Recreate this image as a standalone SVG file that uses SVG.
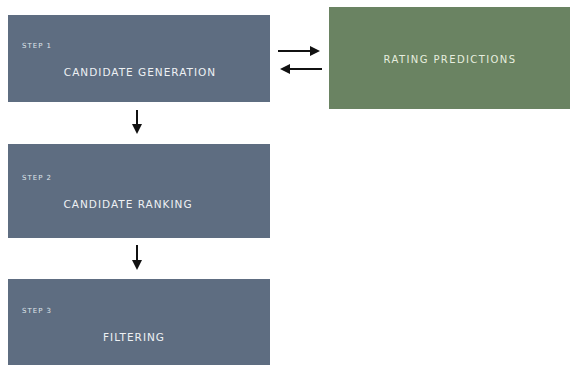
<svg xmlns="http://www.w3.org/2000/svg" width="570" height="365" viewBox="0 0 570 365">
<style>
.step{fill:#5e6d81}
.rate{fill:#6a8362}
.lbl{font-family:"DejaVu Sans",sans-serif;font-size:7px;fill:#dfe4ea;letter-spacing:1px}
.t{font-family:"DejaVu Sans",sans-serif;font-size:10.5px;fill:#eef1f4;text-anchor:middle;letter-spacing:1px}
.tg{font-family:"DejaVu Sans",sans-serif;font-size:10px;fill:#e6eedf;text-anchor:middle;letter-spacing:1.4px}
.c{stroke:#111;stroke-width:2;fill:none}
</style>
<defs>
<marker id="ah" markerWidth="5" markerHeight="5" refX="4" refY="2.5" orient="auto" markerUnits="strokeWidth">
<path d="M0,0 L5,2.5 L0,5 Z" fill="#111"/>
</marker>
</defs>
<rect width="570" height="365" fill="#fff"/>
<g id="step1">
<rect class="step" x="8" y="15" width="262" height="87"/>
<text class="lbl" x="22" y="48">STEP 1</text>
<text class="t" x="140" y="76">CANDIDATE GENERATION</text>
</g>
<g id="rating">
<rect class="rate" x="329" y="7" width="241" height="102"/>
<text class="tg" x="450" y="63">RATING PREDICTIONS</text>
</g>
<g id="step2">
<rect class="step" x="8" y="144" width="262" height="94"/>
<text class="lbl" x="22" y="180">STEP 2</text>
<text class="t" x="128" y="208">CANDIDATE RANKING</text>
</g>
<g id="step3">
<rect class="step" x="8" y="279" width="262" height="86"/>
<text class="lbl" x="22" y="313">STEP 3</text>
<text class="t" x="134" y="341">FILTERING</text>
</g>
<g id="connectors">
<line class="c" x1="278" y1="51" x2="318" y2="51" marker-end="url(#ah)"/>
<line class="c" x1="322" y1="69" x2="282" y2="69" marker-end="url(#ah)"/>
<line class="c" x1="137" y1="110" x2="137" y2="132" marker-end="url(#ah)"/>
<line class="c" x1="137" y1="245" x2="137" y2="268" marker-end="url(#ah)"/>
</g>
</svg>
